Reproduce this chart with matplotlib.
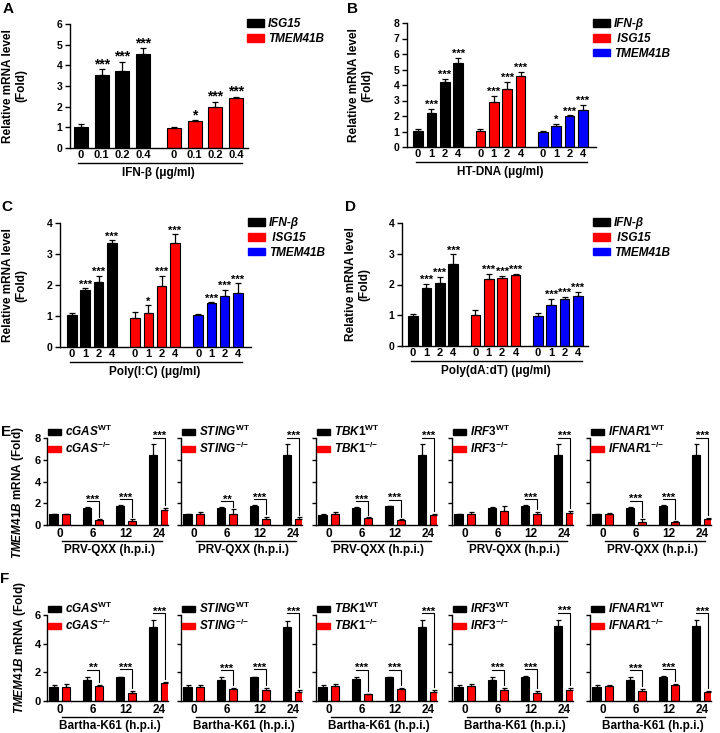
import matplotlib
matplotlib.use('Agg')
import matplotlib.pyplot as plt
import matplotlib.transforms as mtransforms
from matplotlib.patches import Patch
import numpy as np

plt.rcParams['font.family'] = ['Liberation Sans', 'DejaVu Sans']
plt.rcParams['font.weight'] = 'bold'
plt.rcParams['axes.labelweight'] = 'bold'
plt.rcParams['mathtext.fontset'] = 'custom'
plt.rcParams['mathtext.rm'] = 'Liberation Sans:bold'
plt.rcParams['mathtext.it'] = 'Liberation Sans:italic:bold'
plt.rcParams['mathtext.bf'] = 'Liberation Sans:bold'
plt.rcParams['axes.linewidth'] = 1.0

BLACK, RED, BLUE = '#000000', '#ff0000', '#0000ff'

# ---------------- data ----------------
# A: IFN-beta (ug/ml)
a_doses = ['0', '0.1', '0.2', '0.4']
a_isg15 = [1.03, 3.53, 3.74, 4.53]
a_isg15_err = [0.13, 0.27, 0.44, 0.29]
a_isg15_sig = ['', '***', '***', '***']
a_tmem = [0.95, 1.31, 1.97, 2.40]
a_tmem_err = [0.08, 0.04, 0.27, 0.08]
a_tmem_sig = ['', '*', '***', '***']

# B: HT-DNA (ug/ml)
b_doses = ['0', '1', '2', '4']
b_ifnb = [1.03, 2.19, 4.19, 5.42]
b_ifnb_err = [0.15, 0.28, 0.18, 0.34]
b_isg15 = [1.03, 2.90, 3.76, 4.56]
b_isg15_err = [0.15, 0.39, 0.43, 0.28]
b_tmem = [0.95, 1.33, 1.98, 2.41]
b_tmem_err = [0.06, 0.17, 0.06, 0.28]
b_sig = [['', '***', '***', '***'], ['', '***', '***', '***'], ['', '*', '***', '***']]

# C: Poly(I:C) (ug/ml)
c_doses = ['0', '1', '2', '4']
c_ifnb = [1.02, 1.84, 2.11, 3.34]
c_ifnb_err = [0.09, 0.05, 0.19, 0.10]
c_isg15 = [0.93, 1.11, 1.98, 3.34]
c_isg15_err = [0.19, 0.23, 0.32, 0.29]
c_tmem = [1.02, 1.41, 1.66, 1.75]
c_tmem_err = [0.05, 0.03, 0.18, 0.30]
c_sig = [['', '***', '***', '***'], ['', '*', '***', '***'], ['', '***', '***', '***']]

# D: Poly(dA:dT) (ug/ml)
d_doses = ['0', '1', '2', '4']
d_ifnb = [0.97, 1.87, 2.06, 2.67]
d_ifnb_err = [0.07, 0.16, 0.19, 0.31]
d_isg15 = [1.02, 2.19, 2.21, 2.30]
d_isg15_err = [0.14, 0.16, 0.07, 0.04]
d_tmem = [0.98, 1.32, 1.52, 1.61]
d_tmem_err = [0.09, 0.22, 0.07, 0.15]
d_sig = [['', '***', '***', '***'], ['', '***', '***', '***'], ['', '***', '***', '***']]

# E / F: knockouts, time points (h.p.i.)
hpi = ['0', '6', '12', '24']
ko_genes = ['cGAS', 'STING', 'TBK1', 'IRF3', 'IFNAR1']

e_wt = [[0.98, 1.54, 1.75, 6.46], [0.98, 1.54, 1.75, 6.46], [0.95, 1.52, 1.72, 6.46],
        [0.98, 1.60, 1.75, 6.46], [0.98, 1.60, 1.75, 6.46]]
e_wt_err = [[0.06, 0.10, 0.06, 1.02], [0.06, 0.10, 0.06, 1.02], [0.06, 0.10, 0.06, 1.02],
            [0.06, 0.10, 0.06, 1.02], [0.06, 0.10, 0.06, 1.02]]
e_ko = [[0.98, 0.46, 0.40, 1.38], [1.02, 0.98, 0.55, 0.55], [0.98, 0.60, 0.45, 0.92],
        [1.02, 1.30, 0.98, 1.08], [0.98, 0.30, 0.30, 0.52]]
e_ko_err = [[0.06, 0.09, 0.12, 0.22], [0.21, 0.47, 0.22, 0.15], [0.17, 0.10, 0.10, 0.13],
            [0.21, 0.48, 0.25, 0.22], [0.16, 0.22, 0.07, 0.16]]
e_sig = [['', '***', '***', '***'], ['', '**', '***', '***'], ['', '***', '***', '***'],
         ['', '', '***', '***'], ['', '***', '***', '***']]

f_wt = [[0.98, 1.50, 1.64, 5.14], [0.98, 1.50, 1.65, 5.14], [0.98, 1.52, 1.64, 5.19],
        [1.00, 1.50, 1.70, 5.20], [1.00, 1.50, 1.70, 5.20]]
f_wt_err = [[0.16, 0.18, 0.06, 0.51], [0.12, 0.17, 0.05, 0.47], [0.12, 0.16, 0.05, 0.46],
            [0.12, 0.18, 0.04, 0.47], [0.12, 0.17, 0.04, 0.45]]
f_ko = [[0.98, 1.05, 0.56, 1.26], [0.98, 0.82, 0.79, 0.63], [1.03, 0.47, 0.82, 0.63],
        [1.05, 0.79, 0.58, 0.79], [1.05, 0.70, 1.10, 0.65]]
f_ko_err = [[0.19, 0.05, 0.12, 0.04], [0.12, 0.07, 0.12, 0.16], [0.18, 0.04, 0.07, 0.12],
            [0.15, 0.11, 0.12, 0.11], [0.08, 0.16, 0.10, 0.07]]
f_sig = [['', '**', '***', '***'], ['', '***', '***', '***'], ['', '***', '***', '***'],
         ['', '***', '***', '***'], ['', '***', '***', '***']]

# ---------------- layout helpers ----------------
W, H = 720, 733
fig = plt.figure(figsize=(7.2, 7.33), dpi=100)


def px_axes(left, top, right, bottom):
    ax = fig.add_axes([left / W, 1 - bottom / H, (right - left) / W, (bottom - top) / H])
    ax.spines['top'].set_visible(False)
    ax.spines['right'].set_visible(False)
    ax.patch.set_alpha(0)
    return ax


def below(ax, dy):
    # x in data, y = axis line shifted down by dy pixels
    return mtransforms.offset_copy(ax.get_xaxis_transform(), fig=fig, x=0, y=-dy, units='dots')


def fig_legend(ax, handles, labels, x, y, size, hl, hh, sp, tp):
    ax.legend(handles, labels, loc='upper left', bbox_to_anchor=(x / W, 1 - y / H),
              bbox_transform=fig.transFigure, frameon=False, fontsize=size,
              handlelength=hl, handleheight=hh, labelspacing=sp, handletextpad=tp,
              borderpad=0, borderaxespad=0)


def dose_panel(ax, starts, series, errs, sigs, colors, doses, ymax, ystep, bar_w,
               star_size, xlabel, xlim, legend_names, legend_xy, ylab_x):
    all_pos, all_lab = [], []
    for st, vals, err, sig, col in zip(starts, series, errs, sigs, colors):
        pos = st + np.arange(len(vals))
        ax.bar(pos, vals, width=bar_w, color=col, edgecolor='black', linewidth=0.8, zorder=2)
        ax.errorbar(pos, vals, yerr=[np.zeros(len(vals)), err], fmt='none', ecolor='black',
                    elinewidth=0.9, capsize=2.2, capthick=0.9, zorder=3)
        for x, v, e, s in zip(pos, vals, err, sig):
            if s:
                ax.annotate(s, (x, v + e), xytext=(0, 1), textcoords='offset pixels',
                            ha='center', va='baseline', fontsize=star_size)
        all_pos += list(pos)
        all_lab += doses
    ax.set_xlim(*xlim)
    ax.set_ylim(0, ymax)
    ax.set_yticks(np.arange(0, ymax + 0.01, ystep))
    ax.set_xticks(all_pos, all_lab)
    ax.tick_params(axis='x', length=0, pad=1.5, labelsize=8)
    ax.tick_params(axis='y', length=3.5, width=1, pad=2, labelsize=7.5)
    ax.plot([all_pos[0] - 0.15, all_pos[-1] + 0.3], [0, 0], color='black', lw=1,
            transform=below(ax, 15), clip_on=False)
    ax.text((all_pos[0] + all_pos[-1]) / 2, 0, xlabel, transform=below(ax, 28),
            ha='center', va='baseline', fontsize=8.5)
    ax.set_ylabel('Relative mRNA level\n(Fold)', fontsize=8.5, linespacing=1.15)
    ax.yaxis.set_label_coords(ylab_x, 0.5)
    handles = [Patch(facecolor=c, edgecolor=c) for c in colors]
    fig_legend(ax, handles, legend_names, legend_xy[0], legend_xy[1], 8.5, 1.45, 0.6, 0.25, 0.35)
    for t in ax.get_legend().get_texts():
        t.set_fontstyle('italic')


def ko_panel(ax, wt, wt_err, ko, ko_err, sig, gene, ymax, ystep, xlabel, show_ticklabels, d):
    g = np.arange(len(wt))
    ax.bar(g - 0.19, wt, 0.25, color='black', edgecolor='black', linewidth=0.8, zorder=2)
    ax.bar(g + 0.19, ko, 0.25, color=RED, edgecolor='black', linewidth=0.8, zorder=2)
    ax.errorbar(g - 0.19, wt, yerr=[np.zeros(4), wt_err], fmt='none', ecolor='black',
                elinewidth=0.9, capsize=1.8, capthick=0.9, zorder=3)
    ax.errorbar(g + 0.19, ko, yerr=[np.zeros(4), ko_err], fmt='none', ecolor='black',
                elinewidth=0.9, capsize=1.8, capthick=0.9, zorder=3)
    for i in g:
        if sig[i]:
            h = wt[i] + wt_err[i] + d
            ax.plot([i - 0.19, i + 0.19, i + 0.19], [h, h, ko[i] + ko_err[i] + 0.22],
                    color='black', lw=0.8, clip_on=False)
            ax.annotate(sig[i], (i, h), xytext=(0, -1.5), textcoords='offset pixels',
                        ha='center', va='baseline', fontsize=8, annotation_clip=False)
    ax.set_xlim(-0.39, 3.27)
    ax.set_ylim(0, ymax)
    ax.set_yticks(np.arange(0, ymax + 0.01, ystep))
    ax.set_xticks(g, hpi)
    ax.tick_params(axis='x', length=0, pad=2.5, labelsize=8.5)
    ax.tick_params(axis='y', length=3, width=1, pad=1.5, labelsize=8, labelleft=show_ticklabels)
    ax.plot([0.05, 3.1], [0, 0], color='black', lw=1, transform=below(ax, 16), clip_on=False)
    ax.text(1.5, 0, xlabel, transform=below(ax, 28), ha='center', va='baseline', fontsize=8.5)


# ---------------- panels A-D ----------------
axA = px_axes(70, 24, 248, 148)
dose_panel(axA, [0, 4.5], [a_isg15, a_tmem], [a_isg15_err, a_tmem_err], [a_isg15_sig, a_tmem_sig],
           [BLACK, RED], a_doses, 6, 1, 0.68, 10, 'IFN-β (μg/ml)', (-0.53, 8.08),
           ['ISG15', 'TMEM41B'], (247, 18), -0.24)

axB = px_axes(407, 23, 596, 147)
dose_panel(axB, [0, 4.65, 9.3], [b_ifnb, b_isg15, b_tmem], [b_ifnb_err, b_isg15_err, b_tmem_err],
           b_sig, [BLACK, RED, BLUE], b_doses, 8, 1, 0.72, 8, 'HT-DNA (μg/ml)', (-0.82, 13.27),
           ['IFN-β', ' ISG15', 'TMEM41B'], (593, 18), -0.18)

axC = px_axes(60, 223, 251, 347)
dose_panel(axC, [0, 4.75, 9.5], [c_ifnb, c_isg15, c_tmem], [c_ifnb_err, c_isg15_err, c_tmem_err],
           c_sig, [BLACK, RED, BLUE], c_doses, 4, 1, 0.72, 8, 'Poly(I:C) (μg/ml)', (-0.9, 13.48),
           ['IFN-β', ' ISG15', 'TMEM41B'], (248, 217), -0.17)

axD = px_axes(402, 223, 588, 346)
dose_panel(axD, [0, 4.65, 9.3], [d_ifnb, d_isg15, d_tmem], [d_ifnb_err, d_isg15_err, d_tmem_err],
           d_sig, [BLACK, RED, BLUE], d_doses, 4, 1, 0.72, 8, 'Poly(dA:dT) (μg/ml)', (-0.82, 13.05),
           ['IFN-β', ' ISG15', 'TMEM41B'], (593, 217), -0.17)

# ---------------- panels E, F ----------------
lefts = [47, 181, 316, 452, 590]
for row, (top, bot, wt_all, wte_all, ko_all, koe_all, sig_all, ymax, xlab, d) in enumerate([
        (438, 525, e_wt, e_wt_err, e_ko, e_ko_err, e_sig, 8, 'PRV-QXX (h.p.i.)', 0.55),
        (615, 701, f_wt, f_wt_err, f_ko, f_ko_err, f_sig, 6, 'Bartha-K61 (h.p.i.)', 0.5)]):
    for i, gene in enumerate(ko_genes):
        ax = px_axes(lefts[i], top, lefts[i] + 121, bot)
        ko_panel(ax, wt_all[i], wte_all[i], ko_all[i], koe_all[i], sig_all[i], gene,
                 ymax, 2, xlab, i == 0, d)
        labels = ['$\\mathit{' + gene + '}^{\\mathrm{WT}}$',
                  '$\\mathit{' + gene + '}^{\\mathrm{{-}/{-}}}$']
        handles = [Patch(facecolor=BLACK, edgecolor=BLACK), Patch(facecolor=RED, edgecolor=RED)]
        fig_legend(ax, handles, labels, lefts[i] + 1, top - 14, 8.5, 1.1, 0.45, 0.15, 0.3)

fig.text(18 / W, 1 - 493 / H, '$\\mathit{TMEM41B}$ mRNA (Fold)', rotation=90,
         ha='center', va='center', fontsize=8.5)
fig.text(20 / W, 1 - 648 / H, '$\\mathit{TMEM41B}$ mRNA (Fold)', rotation=90,
         ha='center', va='center', fontsize=8.5)

# panel letters
for letter, x, y in [('A', 8, 9), ('B', 352, 9), ('C', 7, 207), ('D', 350, 207),
                     ('E', 6, 432), ('F', 5, 579)]:
    fig.text(x / W, 1 - y / H, letter, fontsize=11, ha='center', va='center')

fig.savefig('out.png', dpi=100)
